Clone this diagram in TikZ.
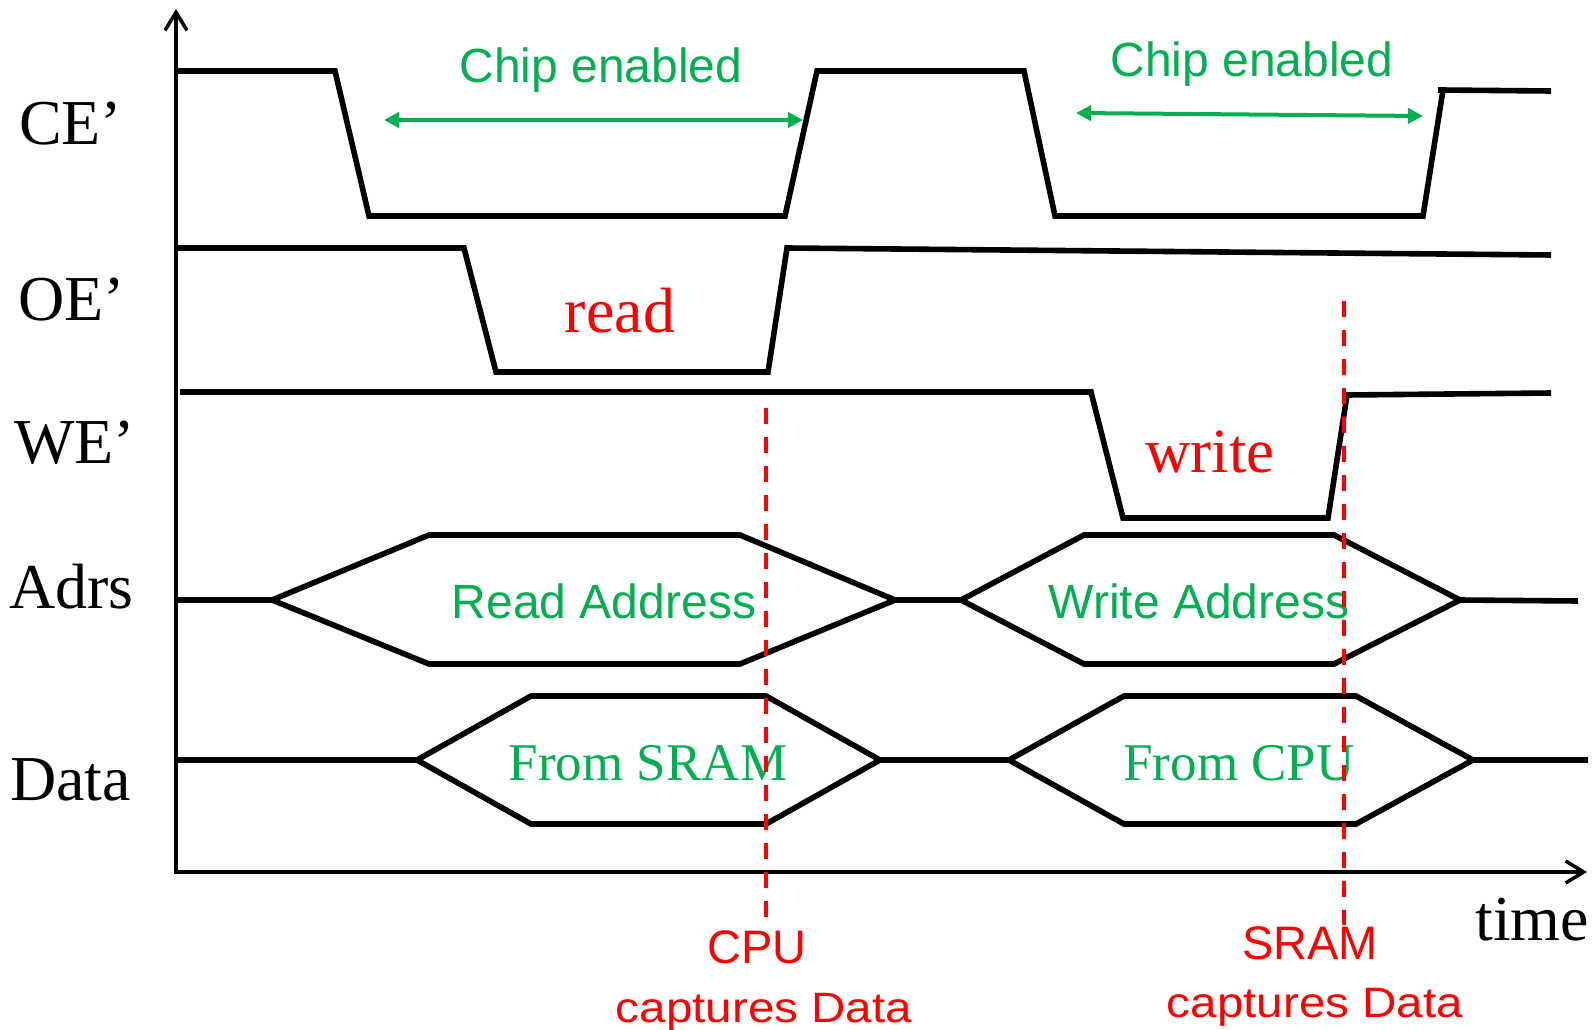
\documentclass[tikz,border=0pt]{standalone}
\usepackage{graphicx}
\usepackage{fontspec}
\setmainfont{Liberation Serif}
\newfontfamily\sansf{Liberation Sans}
\usetikzlibrary{arrows.meta}
\definecolor{capred}{RGB}{255,0,0}
\definecolor{engreen}{RGB}{0,176,80}
\tikzset{
  axisline/.style={line width=3.5pt, line join=miter,
    {Straight Barb[length=18pt,width=22pt]}-{Straight Barb[length=18pt,width=22pt]}},
  wave/.style={line width=5.6pt, line join=miter},
  capline/.style={capred, line width=4pt, dash pattern=on 16pt off 13pt},
  enspan/.style={engreen, line width=4pt,
    {Triangle[length=15pt,width=15pt]}-{Triangle[length=15pt,width=15pt]}},
  siglabel/.style={anchor=base west, inner sep=0pt, font=\fontsize{64}{64}\selectfont},
  phase/.style={anchor=base, inner sep=0pt, text=capred},
  entext/.style={anchor=base, inner sep=0pt, text=engreen, font=\sansf\fontsize{48}{48}\selectfont},
  busval/.style={anchor=base, inner sep=0pt, text=engreen, font=\fontsize{53}{53}\selectfont},
  capnote/.style={anchor=base, inner sep=0pt, text=capred},
}
\begin{document}
\begin{tikzpicture}[x=1pt,y=-1pt]
\useasboundingbox (0,0) rectangle (1595,1030);

% signal names
\node[siglabel] (lce)   at (19,144) {CE’};
\node[siglabel] (loe)   at (18,320) {OE’};
\node[siglabel] (lwe)   at (14,463) {WE’};
\node[siglabel] (ladrs) at (9,608)  {Adrs};
\node[siglabel] (ldata) at (10,800) {Data};
\node[siglabel] (ltime) at (1475,940) {time};

% axes
\coordinate (ytip) at (176,9);
\coordinate (orig) at (176,872);
\coordinate (xtip) at (1587,872);
\draw[axisline] (ytip) -- (orig) -- (xtip);

% CE'
\draw[wave] (176,71) -- (335,71) -- (369,216) -- (785,216) -- (817,71)
  -- (1024,71) -- (1055,216) -- (1423,216) -- (1443,90) -- (1438,90) -- (1551,91);
% OE'
\draw[wave] (176,248) -- (464,248) -- (496,372) -- (768,372) -- (787,248) -- (1551,255);
% WE'
\draw[wave] (180,392) -- (1091,392) -- (1123,518) -- (1328,518) -- (1347,395) -- (1551,393);
% address bus
\draw[wave] (176,600) -- (272,600) -- (429,535) -- (740,535) -- (895,600) -- (961,600)
  -- (1084,535) -- (1334,535) -- (1460,600) -- (1578,601);
\draw[wave] (272,600) -- (429,664) -- (740,664) -- (895,600);
\draw[wave] (961,600) -- (1084,664) -- (1334,664) -- (1460,600);
% data bus
\draw[wave] (176,760) -- (417,760) -- (531,696) -- (766,696) -- (880,760) -- (1009,760)
  -- (1124,696) -- (1356,696) -- (1473,760) -- (1588,760);
\draw[wave] (417,760) -- (531,824) -- (766,824) -- (880,760);
\draw[wave] (1009,760) -- (1124,824) -- (1356,824) -- (1473,760);

% chip enable spans
\node[entext] (ce1) at (601,83) {Chip enabled};
\node[entext] (ce2) at (1252,77) {Chip enabled};
\coordinate (s1a) at (384,120);
\coordinate (s1b) at (803,120);
\coordinate (s2a) at (1076,113);
\coordinate (s2b) at (1423,116);
\draw[enspan] (s1a) -- (s1b);
\draw[enspan] (s2a) -- (s2b);

% cycle names
\node[phase, font=\fontsize{64}{64}\selectfont] (rd) at (620,332) {read};
\node[phase, font=\fontsize{63}{63}\selectfont] (wr) at (1210,472) {write};

% bus contents
\node[entext] (ra) at (604,618) {Read Address};
\node[entext] (wa) at (1199,618) {Write Address};
\node[busval] (fs) at (648,780) {From SRAM};
\node[busval] (fc) at (1239,780) {From CPU};

% capture instants
\node[capnote, font=\sansf\fontsize{47}{47}\selectfont] (cpu) at (757,963) {CPU};
\node[capnote, font=\sansf\fontsize{42.5}{42.5}\selectfont] (cpud) at (764,1022) {\scalebox{1.12}[1]{captures Data}};
\node[capnote, font=\sansf\fontsize{47}{47}\selectfont] (sram) at (1310,959) {SRAM};
\node[capnote, font=\sansf\fontsize{42.5}{42.5}\selectfont] (sramd) at (1315,1017) {\scalebox{1.12}[1]{captures Data}};
\coordinate (c1t) at (766,408);
\coordinate (c1b) at (766,918);
\coordinate (c2t) at (1344,301);
\coordinate (c2b) at (1344,925);
\draw[capline] (c1t) -- (c1b);
\draw[capline] (c2t) -- (c2b);
\end{tikzpicture}
\end{document}
